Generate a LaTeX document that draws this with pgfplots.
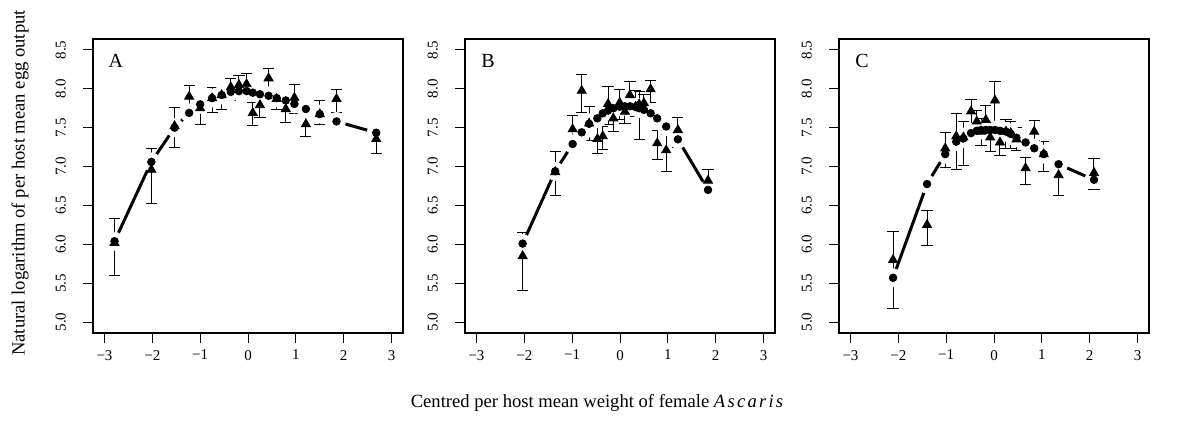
\documentclass[border=0pt]{standalone}
\usepackage{fontspec}
\setmainfont{Liberation Serif}
\usepackage{pgfplots}
\pgfplotsset{compat=1.18}
\usepackage{pgfplotstable}

% x: centred weight, t: observed (triangle), c: fitted (circle), hi/lo: error bar ends
\pgfplotstableread{
x      t      c      hi     lo
-2.79  6.02   6.04   6.33   5.60
-2.02  6.96   7.06   7.235  6.52
-1.535 7.52   7.50   7.76   7.25
-1.23  7.90   7.69   8.045  7.755
-1.00  7.75   7.80   7.90   7.54
-0.75  7.88   7.88   8.02   7.70
-0.55  7.92   7.92   8.00   7.74
-0.36  8.02   7.96   8.135  7.85
-0.19  8.05   7.97   8.17   7.90
-0.03  8.06   7.97   8.195  7.88
0.10   7.69   7.95   7.82   7.53
0.25   7.79   7.93   7.86   7.63
0.43   8.135  7.91   8.255  7.985
0.60   7.87   7.88   7.95   7.73
0.79   7.74   7.85   7.87   7.565
0.97   7.885  7.805  8.06   7.685
1.21   7.545  7.74   7.665  7.385
1.50   7.675  7.675  7.845  7.54
1.85   7.87   7.58   7.985  7.695
2.68   7.355  7.435  7.48   7.165
}\dataA

\pgfplotstableread{
x      t      c      hi     lo
-2.035 5.85   6.01   6.155  5.41
-1.354 6.93   6.94   7.20   6.625
-0.99  7.48   7.29   7.655  7.30
-0.80  7.975  7.44   8.18   7.69
-0.646 7.555  7.55   7.77   7.33
-0.473 7.355  7.62   7.525  7.17
-0.36  7.39   7.685  7.52   7.22
-0.25  7.805  7.72   8.03   7.535
-0.14  7.62   7.75   7.73   7.45
-0.006 7.82   7.77   7.995  7.60
0.104  7.705  7.775  7.87   7.55
0.208  7.92   7.775  8.09   7.72
0.327  7.77   7.765  7.98   7.65
0.40   7.80   7.75   7.97   7.35
0.50   7.815  7.73   7.93   7.68
0.64   7.995  7.685  8.11   7.83
0.777  7.30   7.62   7.47   7.09
0.965  7.21   7.515  7.41   6.94
1.21   7.47   7.35   7.635  7.25
1.84   6.82   6.70   6.965  6.635
}\dataB

\pgfplotstableread{
x      t      c      hi     lo
-2.11  5.80   5.57   6.17   5.176
-1.40  6.25   6.775  6.43   5.98
-1.02  7.235  7.16   7.44   6.985
-0.79  7.39   7.32   7.685  6.965
-0.64  7.375  7.36   7.585  7.01
-0.48  7.71   7.43   7.865  7.43
-0.36  7.58   7.46   7.72   7.365
-0.27  7.45   7.47   7.62   7.27
-0.17  7.60   7.47   7.78   7.40
-0.08  7.375  7.47   7.55   7.20
0.02   7.85   7.47   8.09   7.47
0.125  7.31   7.46   7.49   7.14
0.25   7.45   7.45   7.60   7.235
0.35   7.43   7.42   7.58   7.235
0.47   7.35   7.37   7.505  7.21
0.66   6.98   7.31   7.12   6.775
0.84   7.45   7.235  7.59   7.33
1.04   7.16   7.16   7.32   6.94
1.35   6.89   7.03   7.085  6.625
2.09   6.92   6.83   7.10   6.70
}\dataC

\pgfplotsset{
  panel/.style={
    scale only axis, width=155pt, height=147pt,
    anchor=south west,
    xmin=-3.24, xmax=3.24, ymin=4.86, ymax=8.64,
    axis line style={line width=0.55pt},
    tick align=outside, major tick length=5pt,
    tick style={line width=0.5pt, black},
    xtick pos=bottom, ytick pos=left,
    xtick={-3,-2,-1,0,1,2,3},
    xticklabels={−3,−2,−1,0,1,2,3},
    ytick={5,5.5,6,6.5,7,7.5,8,8.5},
    yticklabels={5.0,5.5,6.0,6.5,7.0,7.5,8.0,8.5},
    ticklabel style={font=\fontsize{7.5}{9}\selectfont},
    xticklabel style={yshift=0pt},
    yticklabel style={rotate=90, anchor=south, yshift=5pt},
  },
  fitline/.style={line width=1.5pt, black, no marks},
  halo/.style={only marks, mark=*, mark size=4.5pt, white},
  obs/.style={only marks, mark=triangle*, mark size=2.6pt, black,
    error bars/.cd, y dir=both, y explicit,
    error bar style={line width=0.5pt, black},
    error mark options={rotate=90, mark size=2.8pt, line width=0.5pt, black}},
  fit/.style={only marks, mark=*, mark size=1.9pt, black},
}

\newcommand{\drawpanel}[2]{%
  \addplot[fitline] table[x=x, y=c] {#1};
  \addplot[halo] table[x=x, y=c] {#1};
  \addplot[obs] table[x=x, y=t,
    y error plus expr=\thisrow{hi}-\thisrow{t},
    y error minus expr=\thisrow{t}-\thisrow{lo}] {#1};
  \addplot[fit] table[x=x, y=c] {#1};
  \node[font=\fontsize{10}{12}\selectfont] at (rel axis cs:0.074,0.925) {#2};
}

\begin{document}
\begin{tikzpicture}
\useasboundingbox (0,0) rectangle (600pt,212.5pt);

\begin{axis}[panel, at={(46.5pt,46pt)}]
\drawpanel{\dataA}{A}
\end{axis}

\begin{axis}[panel, at={(232.5pt,46pt)}]
\drawpanel{\dataB}{B}
\end{axis}

\begin{axis}[panel, at={(419.5pt,46pt)}]
\drawpanel{\dataC}{C}
\end{axis}

\node[rotate=90, font=\fontsize{9.3}{11}\selectfont] at (10pt,121pt)
  {Natural logarithm of per host mean egg output};
\node[font=\fontsize{9.3}{11}\selectfont] at (298.5pt,11pt)
  {Centred per host mean weight of female {\itshape\addfontfeature{LetterSpace=12}Ascaris}};
\end{tikzpicture}
\end{document}
